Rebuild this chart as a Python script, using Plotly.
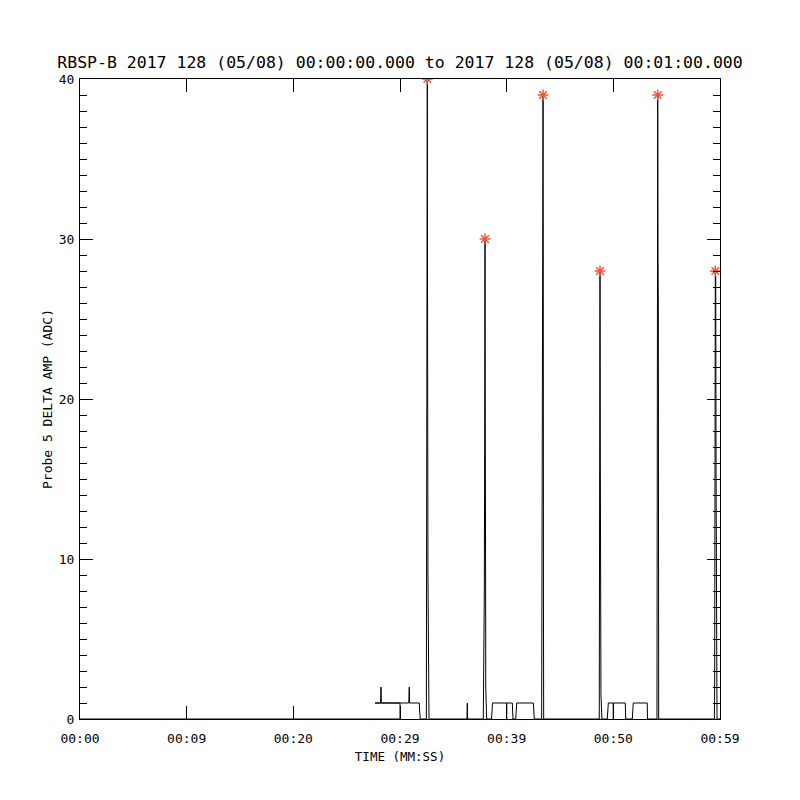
import plotly.graph_objects as go

# Time (seconds after 00:00:00) and delta amplitude (ADC) along the drawn trace
t_sec = [0.0, 30.0, 30.0, 27.66, 28.17, 28.20, 28.22, 28.25, 30.82, 30.85, 30.87, 30.90,
         31.81, 31.84, 31.90,
         32.47, 32.50, 32.56, 32.58, 32.62, 32.64, 32.72,
         36.28, 36.31, 36.33,
         37.81, 37.84, 37.90, 37.94, 37.97, 38.00, 38.03, 38.04, 38.12,
         38.58, 38.63, 38.67, 40.0, 40.0, 40.0, 40.53, 40.56, 40.59,
         40.85, 40.90, 40.94, 42.50, 42.53, 42.59,
         43.28, 43.30, 43.38, 43.41, 43.43, 43.45, 43.47,
         48.68, 48.72, 48.75, 48.78, 48.84, 48.93,
         49.43, 49.48, 49.53, 50.0, 50.0, 50.0, 51.12, 51.14, 51.16,
         51.78, 51.82, 51.87, 53.18, 53.20,
         54.09, 54.11, 54.14, 54.16, 54.19, 54.22, 54.25,
         59.47, 59.50, 59.53, 59.56, 59.60, 59.63, 59.72, 60.0]
amp = [0, 0, 1, 1, 1, 1.45, 2, 1, 1, 1.45, 2, 1,
       1, 0.5, 0,
       0, 9, 40, 27, 9, 7, 0,
       0, 1, 0,
       0, 1.45, 7.5, 17, 30, 17, 7.5, 2, 0,
       0, 0.5, 1, 1, 0, 1, 1, 0.5, 0,
       0, 0.5, 1, 1, 0.5, 0,
       0, 6.5, 29, 39, 29, 6.5, 0,
       0, 16, 28, 16, 1.5, 0,
       0, 0.5, 1, 1, 0, 1, 1, 0.5, 0,
       0, 0.5, 1, 1, 0,
       0, 25.5, 29, 39, 29, 25.5, 0,
       0, 2, 15.6, 28, 27.6, 15.6, 0, 0]

# Peak markers
peak_t = [32.56, 37.97, 43.41, 48.75, 54.16, 59.56]
peak_v = [40, 30, 39, 28, 39, 28]

# Axis ticks
x_tickvals = [0, 10, 20, 30, 40, 50, 60]
x_ticktext = ["00:00", "00:09", "00:20", "00:29", "00:39", "00:50", "00:59"]
y_tickvals = [0, 10, 20, 30, 40]

title_text = "RBSP-B 2017 128 (05/08) 00:00:00.000 to 2017 128 (05/08) 00:01:00.000"
FONT = "DejaVu Sans Mono"

fig = go.Figure()
fig.add_trace(go.Scatter(x=t_sec, y=amp, mode="lines",
                         line=dict(color="black", width=1), showlegend=False))
fig.add_trace(go.Scatter(x=peak_t, y=peak_v, mode="markers",
                         marker=dict(symbol="asterisk-open", size=9,
                                     line=dict(color="red", width=1.5)),
                         showlegend=False))

fig.update_layout(
    width=800, height=800,
    margin=dict(l=72, r=88, t=71, b=89),
    paper_bgcolor="white", plot_bgcolor="white",
    font=dict(family=FONT, size=13, color="black"),
    title=dict(text=title_text, x=72 / 800 + 320 / 800, xanchor="center",
               y=1 - 54 / 800, yanchor="middle", yref="container",
               font=dict(family=FONT, size=16.5, color="black")),
    xaxis=dict(range=[0, 60], tickmode="array", tickvals=x_tickvals,
               ticktext=x_ticktext, ticks="inside", ticklen=13, tickwidth=1,
               tickcolor="black", showline=True, linecolor="black", linewidth=1,
               mirror="allticks", showgrid=False, zeroline=False,
               ticklabelstandoff=7,
               title=dict(text="TIME (MM:SS)", standoff=7,
                          font=dict(family=FONT, size=12.5))),
    yaxis=dict(range=[0, 40], tickmode="array", tickvals=y_tickvals,
               ticks="inside", ticklen=13, tickwidth=1, tickcolor="black",
               showline=True, linecolor="black", linewidth=1,
               mirror="allticks", showgrid=False, zeroline=False,
               ticklabelstandoff=2,
               minor=dict(dtick=1, ticks="inside", ticklen=7, tickwidth=1,
                          tickcolor="black", showgrid=False),
               title=dict(text="Probe 5 DELTA AMP (ADC)", standoff=3,
                          font=dict(family=FONT, size=13))),
)

fig.write_html("out.html")
